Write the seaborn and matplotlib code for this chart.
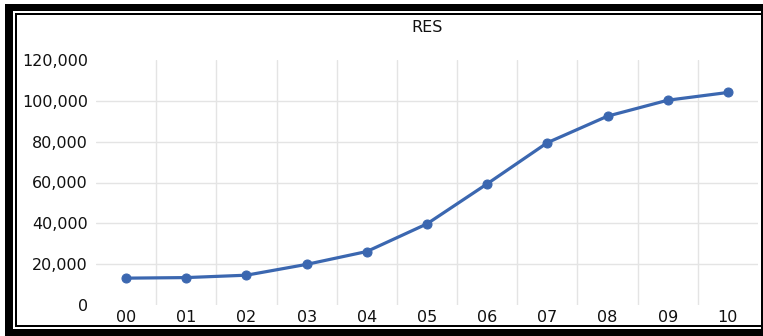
import matplotlib
matplotlib.use("Agg")
import matplotlib.pyplot as plt
from matplotlib.patches import Rectangle
import numpy as np
import pandas as pd
import seaborn as sns

# ---- data ----
categories = ["00", "01", "02", "03", "04", "05", "06", "07", "08", "09", "10"]
res_values = [13150, 13430, 14600, 19900, 26200, 39750, 59350, 79500, 92500, 100300, 104100]
y_ticks = [0, 20000, 40000, 60000, 80000, 100000, 120000]
title_text = "RES"

sns.set_theme(style="white")
plt.rcParams['font.family'] = ['DejaVu Sans']

W, H = 763, 336
fig = plt.figure(figsize=(W / 100, H / 100), dpi=100)
ax = fig.add_axes([96 / W, 1 - 305 / H, (758 - 96) / W, (305 - 60) / H])

df = pd.DataFrame({"pos": np.arange(len(categories)), "value": res_values})
line_color = "#3B67B0"
sns.lineplot(data=df, x="pos", y="value", ax=ax, color=line_color, linewidth=2.3,
             marker="o", markersize=6.5, markeredgecolor=line_color,
             markerfacecolor=line_color, zorder=3)

ax.set_xlim(-0.5, len(categories) - 0.5)
ax.set_ylim(y_ticks[0], y_ticks[-1])
ax.set_xticks(np.arange(len(categories)))
ax.set_xticklabels(categories)
ax.set_xticks(np.arange(len(categories) - 1) + 0.5, minor=True)
ax.set_yticks(y_ticks)
ax.set_yticklabels([f"{v:,}" for v in y_ticks])
ax.set_xlabel("")
ax.set_ylabel("")

text_color = "#111111"
ax.tick_params(axis="y", which="major", length=0, pad=5.8, labelsize=11.5, colors=text_color)
ax.tick_params(axis="x", which="major", length=0, pad=3.5, labelsize=11.5, colors=text_color)
ax.tick_params(axis="x", which="minor", length=0)

grid_color = "#E4E4E4"
ax.grid(False)
ax.xaxis.grid(True, which="minor", color=grid_color, linewidth=1.0)
ax.yaxis.grid(True, which="major", color=grid_color, linewidth=1.0)
ygl = ax.get_ygridlines()
ygl[0].set_visible(False)
ygl[-1].set_visible(False)
ax.set_axisbelow(True)

for s in ax.spines.values():
    s.set_visible(False)

ax.set_title(title_text, fontsize=11.5, color=text_color, pad=20)

# ---- double black frame (figure pixels) ----
def band(x0, y0, x1, y1):
    fig.patches.append(Rectangle((x0 / W, 1 - y1 / H), (x1 - x0) / W, (y1 - y0) / H,
                                 transform=fig.transFigure, facecolor="black",
                                 edgecolor="none", zorder=10))

# outer thick
band(5, 4, 763, 11)
band(5, 4, 13, 336)
band(5, 329, 763, 336)
band(761, 4, 763, 336)
# inner thin
band(15, 13, 763, 15)
band(15, 13, 17, 327)
band(15, 325, 763, 327)

fig.savefig("out.png", dpi=100)
